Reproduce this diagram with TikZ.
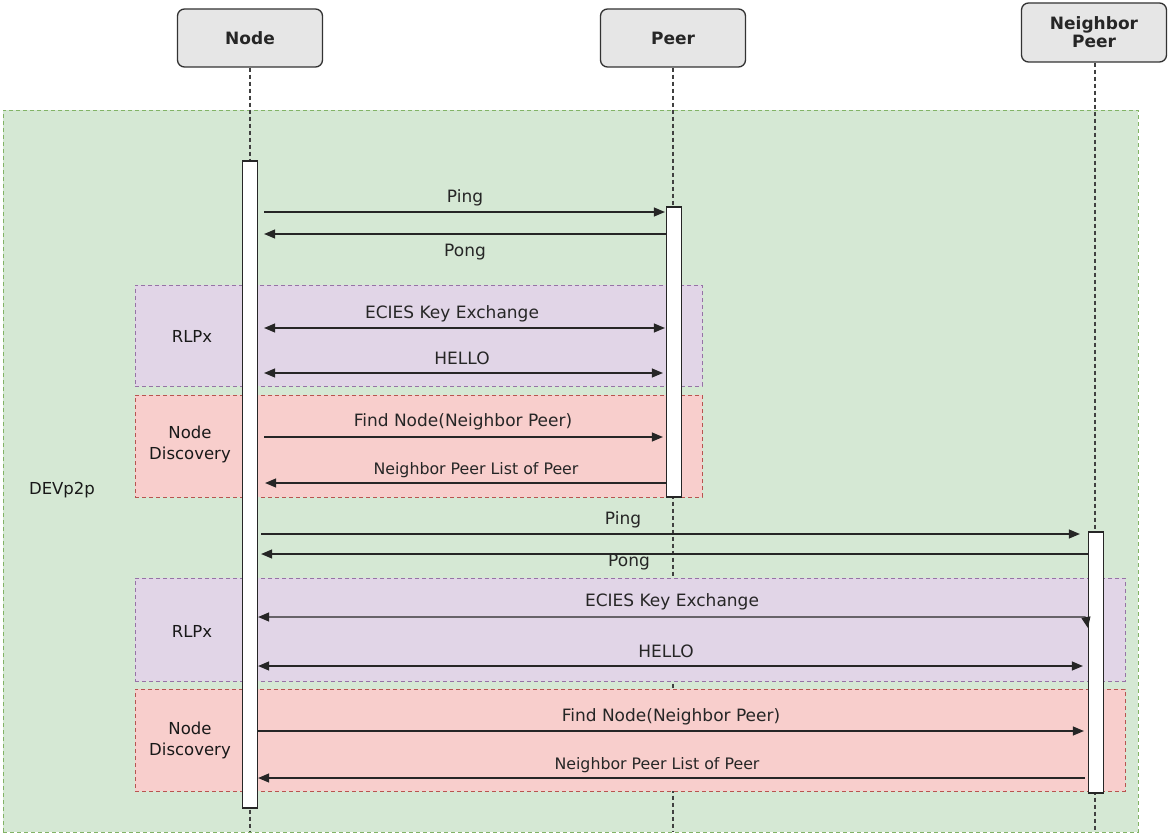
\documentclass[tikz,border=0pt]{standalone}
\usepackage{fontspec}
\setmainfont{DejaVu Sans}
\usetikzlibrary{arrows.meta,calc}
\definecolor{greenF}{HTML}{D5E8D4}
\definecolor{greenD}{HTML}{82B366}
\definecolor{purpF}{HTML}{E1D5E7}
\definecolor{purpD}{HTML}{9673A6}
\definecolor{redF}{HTML}{F8CECC}
\definecolor{redD}{HTML}{B85450}
\definecolor{hdrF}{HTML}{E6E6E6}
\definecolor{ink}{HTML}{333333}
\definecolor{txt}{HTML}{262626}
\tikzset{
  hdr/.style={draw=ink, fill=hdrF, rounded corners=7pt, line width=1.3pt,
    font=\fontsize{17}{20}\selectfont\bfseries, text=txt,
    minimum width=145pt, inner sep=0pt, align=center},
  region/.style={dashed, dash pattern=on 4pt off 3pt, line width=0.9pt, inner sep=0pt},
  act/.style={draw=black!85, fill=white, line width=1.2pt, minimum width=15pt, inner sep=0pt},
  life/.style={draw=black!75, line width=1.3pt, dash pattern=on 4pt off 3pt},
  msg/.style={draw=black!85, line width=1.2pt},
  tip/.style={-{Triangle[length=11pt,width=9pt]}},
  tips/.style={{Triangle[length=11pt,width=9pt]}-{Triangle[length=11pt,width=9pt]}},
  lbl/.style={font=\fontsize{17}{20}\selectfont, text=txt, inner sep=0pt},
  lbls/.style={font=\fontsize{15.8}{19}\selectfont, text=txt, inner sep=0pt},
  grp/.style={font=\fontsize{16.5}{21}\selectfont, text=black!90, inner sep=0pt, align=center}
}
\begin{document}
\begin{tikzpicture}[x=1pt,y=-1pt]
\useasboundingbox (0,0) rectangle (1176,840);
\fill[white] (0,0) rectangle (1176,840);

% DEVp2p region
\node[region, draw=greenD, fill=greenF, minimum width=1135pt, minimum height=722pt] (dev) at (570.5,471) {};
\node[grp] (devl) at (62,490) {DEVp2p};

% headers
\node[hdr, minimum height=58pt] (hN) at (250,38) {Node};
\node[hdr, minimum height=58pt] (hP) at (673,38) {Peer};
\node[hdr, minimum height=59pt] (hG) at (1094,32.5) {Neighbor\\[-2pt]Peer};

% lifelines
\coordinate (eN) at (250,832);
\coordinate (eP) at (673,832);
\coordinate (eG) at (1095,832);
\draw[life] (hN.south) -- (eN);
\draw[life] (hP.south) -- (eP);
\draw[life] (hG.south -| eG) -- (eG);

% groups
\node[region, draw=purpD, fill=purpF, minimum width=567pt, minimum height=101pt] (r1) at (418.5,335.5) {};
\node[region, draw=redD, fill=redF, minimum width=567pt, minimum height=102pt] (d1) at (418.5,446) {};
\node[region, draw=purpD, fill=purpF, minimum width=990pt, minimum height=103pt] (r2) at (630,629.5) {};
\node[region, draw=redD, fill=redF, minimum width=990pt, minimum height=102pt] (d2) at (630,740) {};
\node[grp] (r1l) at (192,336) {RLPx};
\node[grp] (d1l) at (190,444) {Node\\Discovery};
\node[grp] (r2l) at (192,631) {RLPx};
\node[grp] (d2l) at (190,740) {Node\\Discovery};

% activations
\node[act, minimum height=647pt] (aN) at (250,484.5) {};
\node[act, minimum height=290pt] (aP) at (674,352) {};
\node[act, minimum height=261pt] (aG) at (1096,662.5) {};

% messages Node <-> Peer
\draw[msg, tip] ($(aN.east |- 0,212)+(6,0)$) -- ($(aP.west |- 0,212)+(-1,0)$);
\node[lbl] (m1) at (465,198) {Ping};
\draw[msg, tip] (aP.west |- 0,234) -- ($(aN.east |- 0,234)+(6,0)$);
\node[lbl] (m2) at (465,252) {Pong};
\draw[msg, tips] ($(aN.east |- 0,328)+(6,0)$) -- ($(aP.west |- 0,328)+(-1,0)$);
\node[lbl] (m3) at (452,314) {ECIES Key Exchange};
\draw[msg, tips] ($(aN.east |- 0,373)+(6,0)$) -- ($(aP.west |- 0,373)+(-3,0)$);
\node[lbl] (m4) at (462,358) {HELLO};
\draw[msg, tip] ($(aN.east |- 0,437)+(6,0)$) -- ($(aP.west |- 0,437)+(-3,0)$);
\node[lbl] (m5) at (463,422) {Find Node(Neighbor Peer)};
\draw[msg, tip] (aP.west |- 0,483) -- ($(aN.east |- 0,483)+(7,0)$);
\node[lbls] (m6) at (476,470) {Neighbor Peer List of Peer};

% messages Node <-> Neighbor Peer
\draw[msg, tip] ($(aN.east |- 0,534)+(3,0)$) -- ($(aG.west |- 0,534)+(-8,0)$);
\node[lbl] (m7) at (623,520) {Ping};
\draw[msg, tip] (aG.west |- 0,554) -- ($(aN.east |- 0,554)+(3,0)$);
\node[lbl] (m8) at (629,562) {Pong};
\coordinate (c9) at ($(aG.west |- 0,617)+(-10,0)$);
\draw[msg, tips] (aN.east |- 0,617) -- (c9) .. controls ($(c9)+(8,0)$) .. ($(aG.west |- 0,628)$);
\node[lbl] (m9) at (672,602) {ECIES Key Exchange};
\draw[msg, tips] (aN.east |- 0,666) -- ($(aG.west |- 0,666)+(-5,0)$);
\node[lbl] (m10) at (666,651) {HELLO};
\draw[msg, tip] (aN.east |- 0,731) -- ($(aG.west |- 0,731)+(-4,0)$);
\node[lbl] (m11) at (671,717) {Find Node(Neighbor Peer)};
\draw[msg, tip] ($(aG.west |- 0,778)+(-3,0)$) -- (aN.east |- 0,778);
\node[lbls] (m12) at (657,765) {Neighbor Peer List of Peer};
\end{tikzpicture}
\end{document}
